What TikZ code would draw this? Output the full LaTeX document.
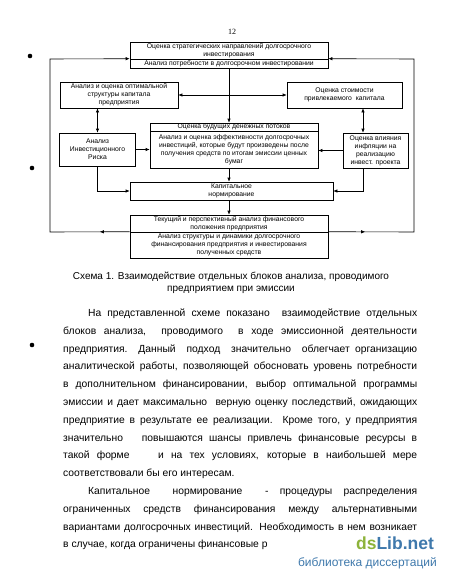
\documentclass[tikz,border=0pt]{standalone}
\usepackage{fontspec}
\setmainfont{Liberation Sans}
\newfontfamily\pagefont{Liberation Serif}
\usetikzlibrary{arrows.meta}
\usetikzlibrary{positioning}
\usetikzlibrary{calc}
\usetikzlibrary{decorations.markings}
\definecolor{wmgreen}{HTML}{8DB33A}
\definecolor{wmblue}{HTML}{3F79AC}

\begin{document}
\begin{tikzpicture}[x=1pt, y=-1pt,
	blk/.style={rectangle, draw=black, line width=0.6pt, inner sep=0pt, align=center, font=\fontsize{6.8}{8}\selectfont},
	arr/.style={-{Latex[length=4pt,width=3.4pt]}, line width=0.6pt},
	darr/.style={{Latex[length=4pt,width=3.4pt]}-{Latex[length=4pt,width=3.4pt]}, line width=0.6pt},
	midarr/.style={postaction={decorate}, decoration={markings, mark=at position #1 with {\arrow{Latex[length=4pt,width=3.4pt]}}}},
	txt/.style={anchor=base west, inner sep=0pt, font=\fontsize{10.3}{12}\selectfont},
	capt/.style={inner sep=0pt, font=\fontsize{10}{12}\selectfont}]
	\newcommand\lineW{354pt}
	\newcommand\indW{329pt}
	\useasboundingbox (0,0) rectangle (450,581);
	\fill[white] (0,0) rectangle (450,581);
	% margin dots
	\fill (30,56) circle (2.3);
	\fill (32,168) circle (2.3);
	\fill (32,345) circle (2.3);
	\node[font=\pagefont\fontsize{8}{9}\selectfont] (pnum) at (232,32) {12};
	% blocks
	\node[blk, minimum width=198, minimum height=17] (node1) at (229,50.5) {Оценка стратегических направлений долгосрочного\\инвестирования};
	\node[blk, minimum width=198, minimum height=9] (node2) at (229,63.5) {Анализ потребности в долгосрочном инвестировании};
	\node[blk, minimum width=118, minimum height=26] (node3) at (119,95) {Анализ и оценка оптимальной\\структуры капитала\\предприятия};
	\node[blk, minimum width=115, minimum height=26] (node4) at (344.5,95) {Оценка стоимости\\привлекаемого\ \ капитала};
	\node[blk, minimum width=76, minimum height=33] (node5) at (97.5,149.5) {Анализ\\Инвестиционного\\Риска};
	\node[blk, minimum width=168, minimum height=8] (node6) at (234,127) {Оценка будущих денежных потоков};
	\node[blk, minimum width=168, minimum height=37] (node7) at (234,149.5) {Анализ и оценка эффективности долгосрочных\\инвестиций, которые будут произведены после\\получения средств по итогам эмиссии ценных\\бумаг};
	\node[blk, minimum width=65, minimum height=35] (node8) at (375.5,150.5) {Оценка влияния\\инфляции на\\реализацию\\инвест. проекта};
	\node[blk, minimum width=203, minimum height=18] (node9) at (231.5,191) {Капитальное\\нормирование};
	\node[blk, minimum width=198, minimum height=17] (node10) at (229,223.5) {Текущий и перспективный анализ финансового\\положения предприятия};
	\node[blk, minimum width=198, minimum height=26] (node11) at (229,245) {Анализ структуры и динамики долгосрочного\\финансирования предприятия и инвестирования\\полученных средств};
	% feedback loops
	\coordinate (c1) at (50,232);
	\coordinate (c2) at (50,59);
	\coordinate (c3) at (414,232);
	\coordinate (c4) at (414,59);
	\draw[arr, midarr=0.09] (node11.north west) -- (c1) -- (c2) -- (node2.north west);
	\draw[arr, midarr=0.107] (node11.north east) -- (c3) -- (c4) -- (node2.north east);
	% links
	\draw[arr] (node2.south) -- (node2.south |- node6.north);
	\draw[darr] (node3) -- (node4);
	\draw[darr] (node5.north) -- (node5.north |- node3.south);
	\draw[darr] ([xshift=-12.5pt]node8.north) -- ([xshift=-12.5pt]node8.north |- node4.south);
	\draw[arr] (node5.east) -- (node5.east -| node7.west);
	\draw[arr] (node8.west) -- (node8.west -| node7.east);
	\draw[arr] (node7.south -| node10.north) -- (node9.north -| node10.north);
	\draw[arr] (node5.south) |- (node9.west);
	\draw[arr] ([xshift=-12.5pt]node8.south) |- (node9.east);
	\draw[arr] (node9.south -| node10.north) -- (node10.north);
	% caption
	\node[capt] (cap1) at (231,277) {Схема 1. Взаимодействие отдельных блоков анализа, проводимого};
	\node[capt] (cap2) at (231,290) {предприятием при эмиссии};
	% body text
	\node[txt] (line1) at (88,316.5) {\makebox[\indW][s]{На представленной схеме показано\ \ взаимодействие отдельных}};
	\node[txt] (line2) at (63,334.3) {\makebox[\lineW][s]{блоков анализа,\ \ проводимого\ \ в ходе эмиссионной деятельности}};
	\node[txt] (line3) at (63,352.1) {\makebox[\lineW][s]{предприятия.\ \ Данный\ \ подход\ \ значительно\ \ облегчает организацию}};
	\node[txt] (line4) at (63,369.9) {\makebox[\lineW][s]{аналитической работы, позволяющей обосновать уровень потребности}};
	\node[txt] (line5) at (63,387.7) {\makebox[\lineW][s]{в дополнительном финансировании, выбор оптимальной программы}};
	\node[txt] (line6) at (63,405.5) {\makebox[\lineW][s]{эмиссии и дает максимально\ \ верную оценку последствий, ожидающих}};
	\node[txt] (line7) at (63,423.3) {\makebox[\lineW][s]{предприятие в результате ее реализации. Кроме того, у предприятия}};
	\node[txt] (line8) at (63,441.1) {\makebox[\lineW][s]{значительно\ \ \ повышаются шансы привлечь финансовые ресурсы в}};
	\node[txt] (line9) at (63,458.9) {\makebox[\lineW][s]{такой форме\ \ \ \ и на тех условиях, которые в наибольшей мере}};
	\node[txt] (line10) at (63,476.7) {соответствовали бы его интересам.};
	\node[txt] (line11) at (88,494.5) {\makebox[\indW][s]{Капитальное\ \ \ \ нормирование\ \ \ \ -\ \ процедуры\ \ распределения}};
	\node[txt] (line12) at (63,512.3) {\makebox[\lineW][s]{ограниченных\ \ средств\ \ финансирования\ \ между\ \ альтернативными}};
	\node[txt] (line13) at (63,530.1) {\makebox[\lineW][s]{вариантами долгосрочных инвестиций. Необходимость в нем возникает}};
	\node[txt] (line14) at (63,547.9) {в случае, когда ограничены финансовые р};
	% watermark
	\fill[white] (318,534) rectangle (450,581);
	\node[inner sep=0pt, font=\bfseries\fontsize{17.5}{18}\selectfont] (wm1) at (395,543) {\textcolor{wmgreen}{ds}\textcolor{wmblue}{Lib.net}};
	\node[inner sep=0pt, font=\fontsize{12}{13}\selectfont, text=wmblue, anchor=east] (wm2) at (437,563) {библиотека диссертаций};
\end{tikzpicture}
\end{document}
